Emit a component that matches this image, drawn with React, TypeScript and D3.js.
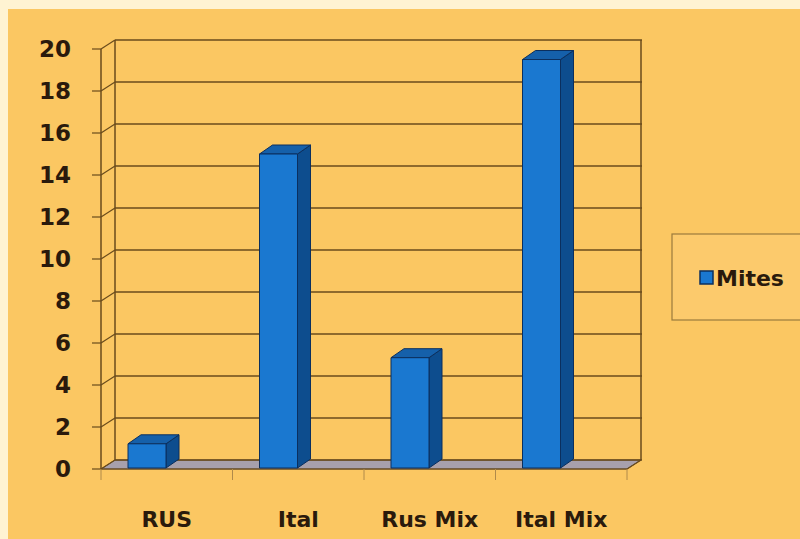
import React from "react";
import * as d3 from "d3";

const categories = ["RUS", "Ital", "Rus Mix", "Ital Mix"];
const mites = [1.2, 15, 5.3, 19.5];
const yTicks = [0, 2, 4, 6, 8, 10, 12, 14, 16, 18, 20];
const seriesName = "Mites";

export default function App() {
  const W = 800;
  const H = 539;
  const DX = 14;
  const DY = 9;
  const yFront = d3.scaleLinear().domain([0, 20]).range([469, 49]);
  const yBack = (v: number) => yFront(v) - DY;
  const x = d3.scaleBand().domain(categories).range([101, 627]).padding(0);
  const frontL = 101;
  const frontR = 627;
  const grid = "#6a4b1c";
  const barW = 38;
  const barOff = 27;
  const bDX = 13;
  const bDY = 9;
  const font = "'DejaVu Sans', Lato, sans-serif";

  return (
    <svg
      width={W}
      height={H}
      style={{ position: "absolute", left: 0, top: 0 }}
      fontFamily={font}
    >
      <rect x={0} y={0} width={W} height={H} fill="#fff3d2" />
      <rect x={8} y={9} width={W - 8} height={H - 9} fill="#fbc762" />

      {/* floor */}
      <polygon
        points={`${frontL},${yFront(0)} ${frontL + DX},${yBack(0)} ${frontR + DX},${yBack(0)} ${frontR},${yFront(0)}`}
        fill="#a7a0ac"
        stroke="#5a4a30"
        strokeWidth={1}
      />

      {/* back wall gridlines */}
      {yTicks.map((t) => (
        <g key={t}>
          <line x1={frontL + DX} x2={frontR + DX + 1} y1={yBack(t)} y2={yBack(t)} stroke={grid} strokeWidth={1.5} />
          <line x1={frontL} x2={frontL + DX} y1={yFront(t)} y2={yBack(t)} stroke={grid} strokeWidth={1.2} />
          <line x1={frontL - 9} x2={frontL} y1={yFront(t)} y2={yFront(t)} stroke={grid} strokeWidth={1.2} />
          <text
            x={71}
            y={yFront(t)}
            textAnchor="end"
            dominantBaseline="central"
            fontSize={23}
            fontWeight={700}
            fill="#2a1a0c"
          >
            {t}
          </text>
        </g>
      ))}
      <line x1={frontL + DX} x2={frontL + DX} y1={yBack(20)} y2={yBack(0)} stroke={grid} strokeWidth={1.5} />
      <line x1={frontR + DX} x2={frontR + DX} y1={yBack(20)} y2={yBack(0)} stroke={grid} strokeWidth={1.5} />
      <line x1={frontL} x2={frontL} y1={yFront(20)} y2={yFront(0)} stroke={grid} strokeWidth={1.5} />
      <line x1={frontL} x2={frontR} y1={yFront(0)} y2={yFront(0)} stroke={grid} strokeWidth={1.2} />
      <line x1={frontR} x2={frontR + DX} y1={yFront(0)} y2={yBack(0)} stroke={grid} strokeWidth={1.2} />

      {/* category ticks */}
      {[...categories.map((c) => x(c) as number), frontR].map((px, i) => (
        <line key={i} x1={px} x2={px} y1={yFront(0)} y2={yFront(0) + 11} stroke="#b08a4a" strokeWidth={1} />
      ))}

      {/* bars */}
      {categories.map((c, i) => {
        const x0 = (x(c) as number) + barOff;
        const x1 = x0 + barW;
        const yt = yFront(mites[i]);
        const yb = yFront(0) - 1;
        return (
          <g key={c} stroke="#0b2f5e" strokeWidth={1} strokeLinejoin="round">
            <polygon
              points={`${x1},${yb} ${x1 + bDX},${yb - bDY} ${x1 + bDX},${yt - bDY} ${x1},${yt}`}
              fill="#0d4d8e"
            />
            <polygon
              points={`${x0},${yt} ${x0 + bDX},${yt - bDY} ${x1 + bDX},${yt - bDY} ${x1},${yt}`}
              fill="#1560aa"
            />
            <rect x={x0} y={yt} width={barW} height={yb - yt} fill="#1a78d0" />
          </g>
        );
      })}

      {/* category labels */}
      {categories.map((c) => (
        <text
          key={c}
          x={(x(c) as number) + x.bandwidth() / 2}
          y={519}
          textAnchor="middle"
          dominantBaseline="central"
          fontSize={22}
          fontWeight={700}
          fill="#2a1a0c"
        >
          {c}
        </text>
      ))}

      {/* legend */}
      <rect x={672} y={234} width={140} height={86} fill="#fcca6c" stroke="#9a7a3c" strokeWidth={1.2} />
      <rect x={700} y={271} width={13} height={13} fill="#1a78d0" stroke="#0b2f5e" strokeWidth={1.5} />
      <text x={716} y={278} dominantBaseline="central" fontSize={22} fontWeight={700} fill="#2a1a0c">
        {seriesName}
      </text>
    </svg>
  );
}
